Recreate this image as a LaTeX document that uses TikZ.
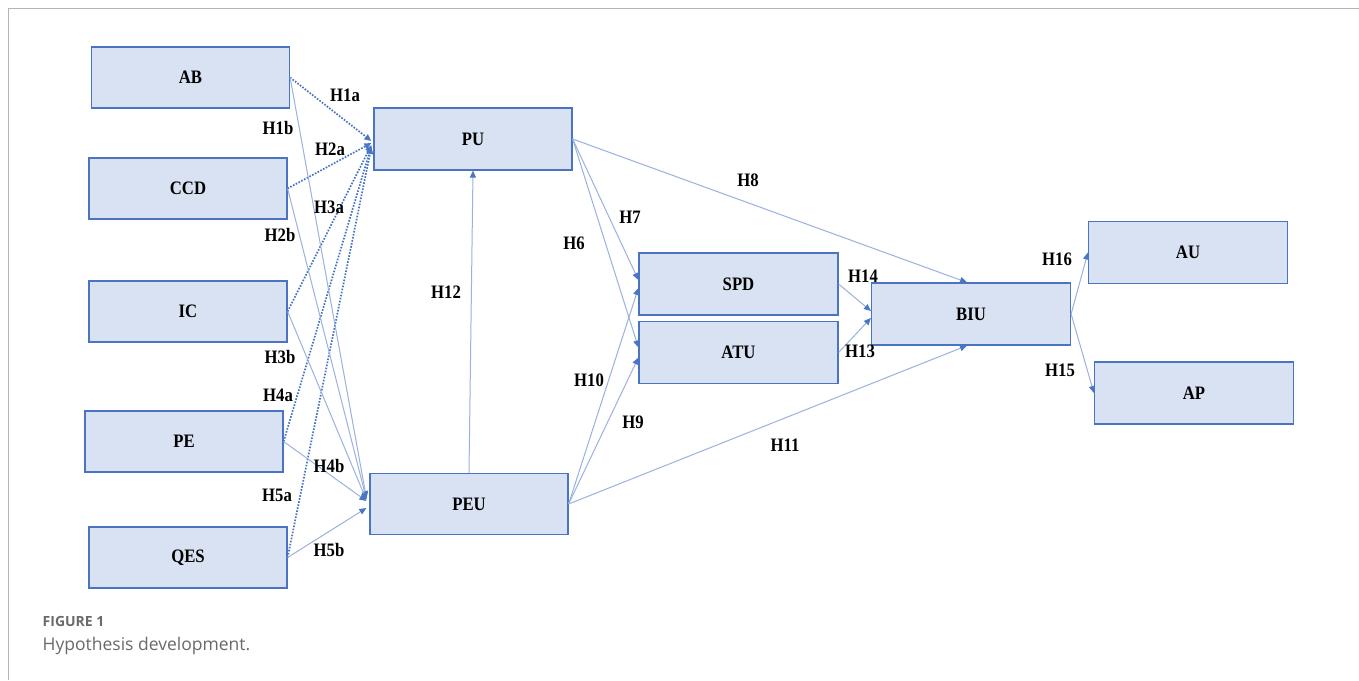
\documentclass[tikz,border=0pt]{standalone}
\usepackage{fontspec}
\usetikzlibrary{arrows.meta}
\newfontfamily\diagfont[FakeStretch=0.88]{Liberation Serif}
\newfontfamily\capfont{Open Sans}
\definecolor{boxedge}{HTML}{4A74C2}
\definecolor{boxfill}{HTML}{D9E2F2}
\definecolor{dotline}{HTML}{4472C4}
\definecolor{thinline}{HTML}{9AB2DF}
\definecolor{tipblue}{HTML}{4A76C6}
\definecolor{capgray}{HTML}{6A6A6A}
\definecolor{framegray}{HTML}{B4B4B4}
\tikzset{
  construct/.style={draw=boxedge, fill=boxfill, line width=1.2pt, inner sep=0pt,
    minimum width=198pt, minimum height=61pt,
    font=\diagfont\bfseries\fontsize{19}{19}\selectfont},
  hyp/.style={font=\diagfont\bfseries\fontsize{19}{19}\selectfont, inner sep=0pt},
  tip/.style={-{Triangle[length=7pt,width=6pt,fill=tipblue,color=tipblue]}},
  dotlink/.style={tip, draw=dotline, line width=1.7pt, dash pattern=on 1.6pt off 1.5pt},
  link/.style={tip, draw=thinline, line width=1pt},
}
\begin{document}
\begin{tikzpicture}[x=1pt,y=-1pt]
\useasboundingbox (0,0) rectangle (1359,680);
\fill[white] (0,0) rectangle (1359,680);
% page frame
\draw[framegray, line width=1.5pt] (8.5,680) -- (8.5,8.5) -- (1359,8.5);

% constructs
\node[construct] (AB)  at (190.5,77.5) {AB};
\node[construct] (CCD) at (188,188.5) {CCD};
\node[construct] (IC)  at (188,311.5) {IC};
\node[construct] (PE)  at (184,441.5) {PE};
\node[construct] (QES) at (188,557.5) {QES};
\node[construct, minimum height=62pt] (PU)  at (473,139) {PU};
\node[construct] (PEU) at (469,504) {PEU};
\node[construct, minimum width=199pt, minimum height=62pt] (SPD) at (738.5,284) {SPD};
\node[construct, minimum width=199pt, minimum height=62pt] (ATU) at (738.5,352.5) {ATU};
\node[construct, minimum width=199pt, minimum height=62pt] (BIU) at (971,314) {BIU};
\node[construct, minimum width=199pt, minimum height=62pt] (AU)  at (1188,252.5) {AU};
\node[construct, minimum width=199pt, minimum height=62pt] (AP)  at (1194,393) {AP};

% antecedents -> PU (dotted)
\draw[dotlink] (AB.east)  -- ([xshift=-2pt,yshift=-2pt]PU.west);
\draw[dotlink] (CCD.east) -- ([xshift=-2pt,yshift=-4pt]PU.west);
\draw[dotlink] (IC.east)  -- ([xshift=-2pt,yshift=-6pt]PU.west);
\draw[dotlink] (PE.east)  -- ([xshift=-2pt,yshift=-7pt]PU.west);
\draw[dotlink] (QES.east) -- ([xshift=-2pt,yshift=-8pt]PU.west);

% antecedents -> PEU
\draw[link] (AB.east)  -- ([xshift=-3pt,yshift=6pt]PEU.west);
\draw[link] (CCD.east) -- ([xshift=-3pt,yshift=5pt]PEU.west);
\draw[link] (IC.east)  -- ([xshift=-3pt,yshift=4pt]PEU.west);
\draw[link] (PE.east)  -- ([xshift=-3pt,yshift=3pt]PEU.west);
\draw[link] (QES.east) -- ([xshift=-3pt,yshift=-4pt]PEU.west);

% PEU -> PU
\draw[link] (PEU.north) -- (PU.south);

% PU and PEU -> mediators and BIU
\draw[link] (PU.east) -- ([yshift=4pt]SPD.west);
\draw[link] (PU.east) -- ([yshift=5pt]ATU.west);
\draw[link] (PU.east) -- ([xshift=-4pt]BIU.north);
\draw[link] (PEU.east) -- ([yshift=-4pt]SPD.west);
\draw[link] (PEU.east) -- ([yshift=-5pt]ATU.west);
\draw[link] (PEU.east) -- ([xshift=-4pt]BIU.south);

% mediators -> BIU
\draw[link] (SPD.east) -- ([yshift=3pt]BIU.west);
\draw[link] (ATU.east) -- ([yshift=-4pt]BIU.west);

% BIU -> outcomes
\draw[link] (BIU.east) -- (AU.west);
\draw[link] (BIU.east) -- (AP.west);

% hypothesis labels
\node[hyp] (h1a) at (345,95) {H1a};
\node[hyp] (h1b) at (278,128) {H1b};
\node[hyp] (h2a) at (330,149) {H2a};
\node[hyp] (h3a) at (329,207) {H3a};
\node[hyp] (h2b) at (280,235) {H2b};
\node[hyp] (h3b) at (280,357) {H3b};
\node[hyp] (h4a) at (278,395) {H4a};
\node[hyp] (h4b) at (329,466) {H4b};
\node[hyp] (h5a) at (277,495) {H5a};
\node[hyp] (h5b) at (329,550) {H5b};
\node[hyp] (h12) at (446,292) {H12};
\node[hyp] (h6)  at (574,243) {H6};
\node[hyp] (h7)  at (630,217) {H7};
\node[hyp] (h8)  at (748,180) {H8};
\node[hyp] (h10) at (589,380) {H10};
\node[hyp] (h9)  at (633,422) {H9};
\node[hyp] (h11) at (785,445) {H11};
\node[hyp] (h14) at (863,276) {H14};
\node[hyp] (h13) at (860,351) {H13};
\node[hyp] (h16) at (1057,259) {H16};
\node[hyp] (h15) at (1060,370) {H15};

% caption
\node[anchor=base west, inner sep=0pt, text=capgray,
      font=\capfont\bfseries\fontsize{14}{14}\selectfont] (figno) at (42.5,626) {FIGURE 1};
\node[anchor=base west, inner sep=0pt, text=capgray,
      font=\capfont\fontsize{17.5}{17.5}\selectfont] (figcap) at (42.5,650.5) {Hypothesis development.};
\end{tikzpicture}
\end{document}
